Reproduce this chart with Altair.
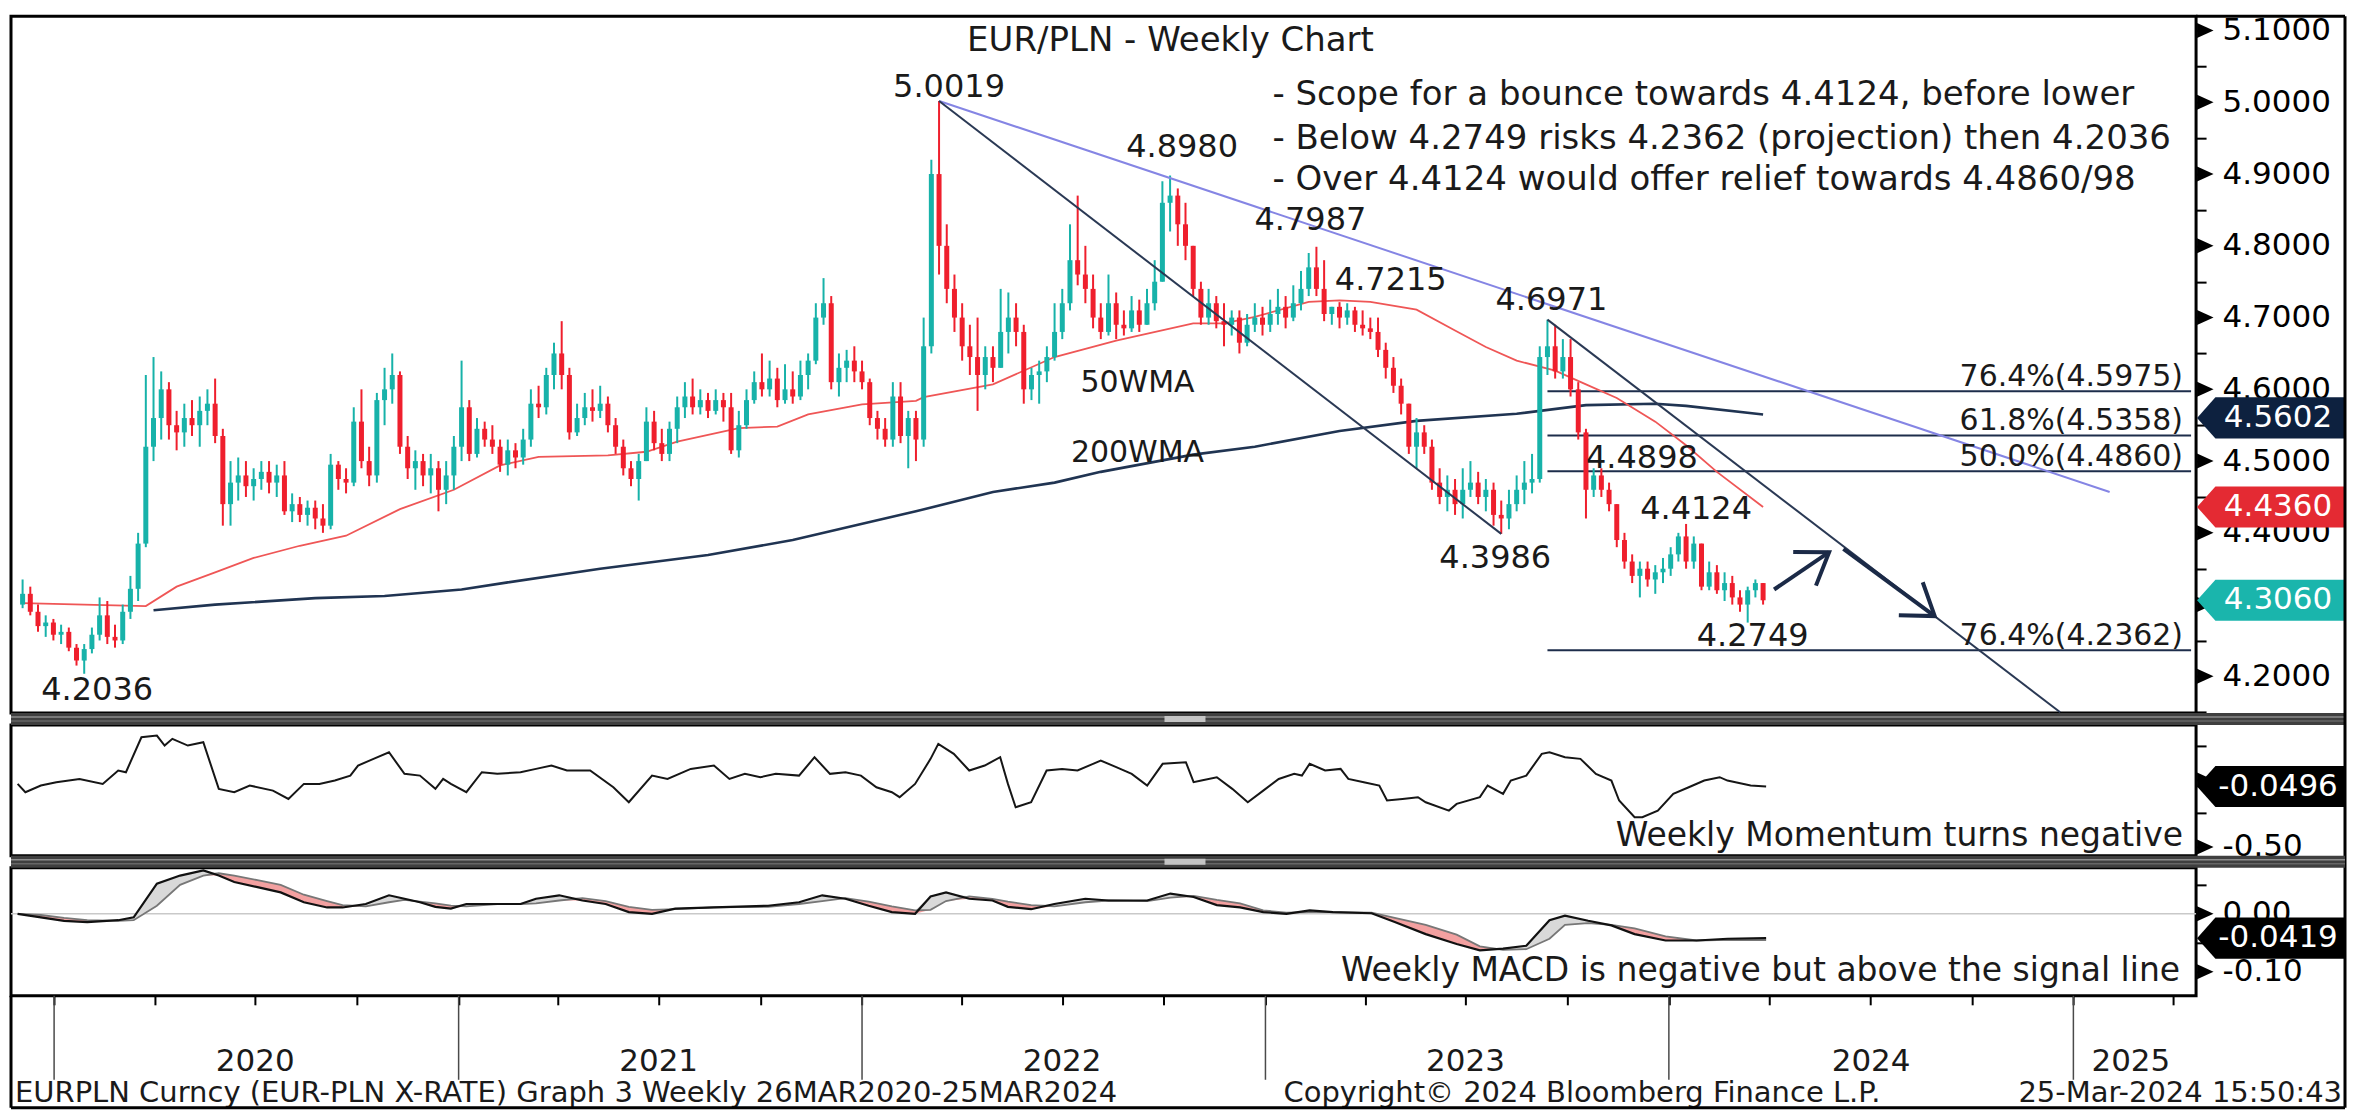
import altair as alt
import pandas as pd

# ---------------- layout ----------------
W = 2186
H_MAIN, H_MOM, H_MACD, GAP = 697, 131, 128, 12
RIGHT = 149
FONT = "DejaVu Sans"
INK = "#1a1a1a"
TEAL, RED = "#17b2a9", "#ef1f2d"
MA50_C, MA200_C = "#ef5656", "#203452"
NAVY = "#1d2d4b"
PURPLE = "#8585e4"

# ---------------- data ----------------
START = "2019-11-29"          # first weekly candle
OPEN_FIRST = 4.300
CLOSE = [
    4.315, 4.290, 4.270, 4.275, 4.258, 4.262, 4.240, 4.222, 4.238, 4.258,
    4.285, 4.255, 4.250, 4.290, 4.322, 4.385, 4.520, 4.560, 4.600, 4.550,
    4.540, 4.560, 4.550, 4.570, 4.580, 4.535, 4.440, 4.470, 4.480, 4.465,
    4.475, 4.485, 4.470, 4.480, 4.430, 4.440, 4.425, 4.435, 4.420, 4.410,
    4.495, 4.475, 4.470, 4.555, 4.500, 4.480, 4.585, 4.600, 4.620, 4.520,
    4.490, 4.500, 4.480, 4.490, 4.460, 4.480, 4.520, 4.575, 4.510, 4.545,
    4.530, 4.520, 4.495, 4.515, 4.505, 4.530, 4.580, 4.575, 4.620, 4.650,
    4.620, 4.540, 4.560, 4.575, 4.570, 4.580, 4.550, 4.520, 4.490, 4.475,
    4.500, 4.555, 4.525, 4.510, 4.545, 4.575, 4.590, 4.575, 4.585, 4.570,
    4.585, 4.575, 4.515, 4.550, 4.585, 4.610, 4.600, 4.615, 4.585, 4.600,
    4.590, 4.620, 4.640, 4.700, 4.720, 4.610, 4.630, 4.640, 4.625, 4.610,
    4.560, 4.545, 4.530, 4.590, 4.535, 4.560, 4.530, 4.660, 4.900, 4.800,
    4.740, 4.700, 4.660, 4.645, 4.620, 4.645, 4.630, 4.680, 4.700, 4.680,
    4.600, 4.620, 4.625, 4.645, 4.680, 4.720, 4.780, 4.760, 4.740, 4.700,
    4.680, 4.720, 4.690, 4.685, 4.710, 4.690, 4.720, 4.750, 4.860, 4.870,
    4.830, 4.800, 4.740, 4.700, 4.720, 4.695, 4.690, 4.700, 4.665, 4.690,
    4.700, 4.690, 4.705, 4.715, 4.700, 4.720, 4.740, 4.770, 4.740, 4.705,
    4.715, 4.700, 4.710, 4.690, 4.685, 4.680, 4.655, 4.630, 4.605, 4.580,
    4.520, 4.540, 4.520, 4.470, 4.450, 4.460, 4.440, 4.460, 4.470, 4.450,
    4.460, 4.425, 4.420, 4.440, 4.460, 4.470, 4.475, 4.645, 4.660, 4.625,
    4.645, 4.600, 4.540, 4.460, 4.480, 4.460, 4.440, 4.390, 4.360, 4.340,
    4.350, 4.335, 4.345, 4.350, 4.370, 4.395, 4.360, 4.385, 4.325, 4.345,
    4.320, 4.330, 4.310, 4.300, 4.320, 4.330, 4.306,
]
HIGH = [
    4.335, 4.325, 4.300, 4.285, 4.280, 4.272, 4.268, 4.245, 4.245, 4.268,
    4.310, 4.305, 4.272, 4.300, 4.340, 4.400, 4.620, 4.645, 4.625, 4.610,
    4.570, 4.580, 4.585, 4.590, 4.600, 4.615, 4.545, 4.500, 4.505, 4.500,
    4.490, 4.500, 4.500, 4.495, 4.500, 4.455, 4.450, 4.445, 4.445, 4.440,
    4.510, 4.500, 4.490, 4.575, 4.600, 4.520, 4.595, 4.630, 4.650, 4.625,
    4.535, 4.515, 4.510, 4.510, 4.500, 4.500, 4.535, 4.640, 4.585, 4.560,
    4.555, 4.550, 4.530, 4.530, 4.525, 4.545, 4.600, 4.605, 4.630, 4.665,
    4.695, 4.630, 4.580, 4.595, 4.600, 4.605, 4.590, 4.560, 4.530, 4.500,
    4.510, 4.575, 4.570, 4.545, 4.555, 4.590, 4.610, 4.615, 4.600, 4.595,
    4.600, 4.595, 4.595, 4.570, 4.600, 4.625, 4.650, 4.640, 4.630, 4.635,
    4.625, 4.640, 4.650, 4.720, 4.755, 4.730, 4.650, 4.655, 4.660, 4.640,
    4.615, 4.570, 4.560, 4.610, 4.610, 4.570, 4.570, 4.700, 4.920, 5.0019,
    4.830, 4.760, 4.720, 4.690, 4.700, 4.660, 4.660, 4.740, 4.735, 4.720,
    4.690, 4.630, 4.640, 4.660, 4.720, 4.740, 4.830, 4.870, 4.800, 4.760,
    4.720, 4.760, 4.735, 4.710, 4.730, 4.725, 4.740, 4.780, 4.890, 4.898,
    4.880, 4.860, 4.800, 4.750, 4.740, 4.730, 4.720, 4.710, 4.710, 4.705,
    4.720, 4.715, 4.725, 4.740, 4.730, 4.745, 4.765, 4.790, 4.7987, 4.780,
    4.715, 4.7215, 4.720, 4.715, 4.710, 4.700, 4.700, 4.665, 4.645, 4.615,
    4.580, 4.560, 4.550, 4.530, 4.490, 4.480, 4.475, 4.490, 4.500, 4.485,
    4.475, 4.470, 4.445, 4.460, 4.480, 4.500, 4.510, 4.660, 4.6971, 4.690,
    4.670, 4.670, 4.610, 4.545, 4.490, 4.490, 4.470, 4.440, 4.400, 4.370,
    4.360, 4.360, 4.355, 4.365, 4.380, 4.400, 4.4124, 4.395, 4.385, 4.360,
    4.355, 4.345, 4.340, 4.320, 4.325, 4.335, 4.330,
]
LOW = [
    4.295, 4.285, 4.262, 4.255, 4.250, 4.245, 4.235, 4.215, 4.2036, 4.232,
    4.250, 4.245, 4.240, 4.245, 4.280, 4.305, 4.380, 4.500, 4.530, 4.530,
    4.515, 4.520, 4.535, 4.520, 4.550, 4.525, 4.410, 4.410, 4.445, 4.450,
    4.445, 4.460, 4.455, 4.450, 4.425, 4.415, 4.415, 4.410, 4.405, 4.400,
    4.405, 4.460, 4.455, 4.465, 4.490, 4.465, 4.470, 4.550, 4.580, 4.510,
    4.475, 4.460, 4.465, 4.455, 4.430, 4.440, 4.460, 4.500, 4.500, 4.505,
    4.520, 4.510, 4.485, 4.480, 4.490, 4.495, 4.520, 4.560, 4.565, 4.600,
    4.600, 4.530, 4.535, 4.550, 4.555, 4.560, 4.540, 4.510, 4.480, 4.465,
    4.445, 4.500, 4.515, 4.500, 4.500, 4.525, 4.560, 4.565, 4.565, 4.560,
    4.565, 4.555, 4.510, 4.505, 4.545, 4.580, 4.590, 4.590, 4.575, 4.580,
    4.580, 4.585, 4.600, 4.635, 4.690, 4.600, 4.590, 4.610, 4.610, 4.600,
    4.550, 4.530, 4.520, 4.520, 4.525, 4.490, 4.500, 4.520, 4.650, 4.760,
    4.720, 4.680, 4.640, 4.620, 4.570, 4.600, 4.610, 4.630, 4.650, 4.660,
    4.580, 4.585, 4.580, 4.610, 4.640, 4.670, 4.710, 4.745, 4.720, 4.685,
    4.670, 4.675, 4.670, 4.675, 4.680, 4.680, 4.690, 4.710, 4.750, 4.820,
    4.800, 4.780, 4.730, 4.690, 4.690, 4.685, 4.660, 4.675, 4.650, 4.660,
    4.680, 4.675, 4.680, 4.690, 4.685, 4.695, 4.710, 4.730, 4.730, 4.695,
    4.690, 4.685, 4.690, 4.680, 4.675, 4.670, 4.645, 4.615, 4.595, 4.565,
    4.510, 4.490, 4.510, 4.460, 4.440, 4.430, 4.425, 4.420, 4.450, 4.440,
    4.430, 4.410, 4.3986, 4.405, 4.430, 4.440, 4.455, 4.470, 4.620, 4.615,
    4.615, 4.590, 4.530, 4.420, 4.450, 4.450, 4.430, 4.380, 4.350, 4.330,
    4.310, 4.325, 4.315, 4.330, 4.340, 4.360, 4.350, 4.350, 4.320, 4.320,
    4.315, 4.305, 4.300, 4.290, 4.2749, 4.310, 4.300,
]

MA50_IDX = [0, 8, 16, 20, 25, 30, 36, 42, 49, 56, 62, 67, 76, 81, 85, 93, 98, 102, 109, 116,
            117, 126, 134, 142, 152, 156, 160, 167, 171, 175, 181, 186, 190, 194, 199, 203, 207,
            212, 216, 220, 226]
MA50_VAL = [4.302, 4.300, 4.298, 4.325, 4.345, 4.365, 4.382, 4.396, 4.433, 4.460, 4.494, 4.506,
            4.508, 4.513, 4.527, 4.546, 4.548, 4.565, 4.579, 4.584, 4.589, 4.607, 4.645, 4.668,
            4.692, 4.692, 4.701, 4.722, 4.724, 4.722, 4.711, 4.682, 4.659, 4.640, 4.626, 4.607,
            4.588, 4.555, 4.522, 4.485, 4.436]
MA200_IDX = [17, 25, 38, 47, 57, 63, 75, 89, 100, 110, 116, 126, 134, 140, 152, 160, 171, 181,
             194, 203, 212, 216, 226]
MA200_VAL = [4.292, 4.300, 4.309, 4.312, 4.321, 4.331, 4.350, 4.369, 4.390, 4.415, 4.430, 4.457,
             4.470, 4.485, 4.509, 4.520, 4.542, 4.556, 4.566, 4.578, 4.580, 4.577, 4.565]

MOM_IDX = [0, 1, 3, 5, 8, 11, 13, 14, 16, 18, 19, 20, 22, 24, 26, 28, 30, 33, 35, 37,
           39, 41, 43, 44, 46, 48, 50, 52, 54, 55, 56, 58, 60, 62, 65, 67, 69, 71, 74, 77,
           79, 82, 84, 87, 90, 92, 94, 96, 98, 101, 103, 105, 107, 109, 111, 113, 114, 116, 118, 119,
           121, 123, 125, 127, 128, 129, 131, 133, 135, 137, 139, 140, 142, 144, 146, 148, 151, 152, 153, 155,
           157, 159, 161, 163, 165, 166, 167, 169, 171, 172, 174, 176, 177, 179, 181, 182, 185, 186, 189, 190,
           192, 193, 195, 197, 198, 200, 202, 204, 206, 207, 209, 210, 212, 214, 216, 218, 220, 221, 224, 226]
MOM_VAL = [-0.030, -0.092, -0.042, -0.017, 0.007, -0.030, 0.070, 0.057, 0.318, 0.331,
           0.256, 0.306, 0.256, 0.281, -0.067, -0.092, -0.042, -0.080, -0.142, -0.030,
           -0.030, -0.005, 0.032, 0.107, 0.157, 0.206, 0.045, 0.032, -0.067, 0.007,
           -0.030, -0.092, 0.057, 0.045, 0.057, 0.082, 0.107, 0.070, 0.070, -0.055,
           -0.167, 0.032, 0.007, 0.082, 0.107, 0.007, 0.045, 0.020, 0.045, 0.032,
           0.169, 0.045, 0.057, 0.032, -0.055, -0.092, -0.129, -0.030, 0.157, 0.269,
           0.194, 0.070, 0.107, 0.169, -0.030, -0.204, -0.167, 0.070, 0.082, 0.070,
           0.120, 0.144, 0.095, 0.045, -0.042, 0.120, 0.132, -0.017, -0.005, 0.020,
           -0.067, -0.167, -0.080, 0.007, 0.045, 0.032, 0.120, 0.070, 0.082, 0.007,
           -0.017, -0.042, -0.154, -0.142, -0.129, -0.167, -0.229, -0.179, -0.129, -0.042,
           -0.104, -0.005, 0.032, 0.194, 0.206, 0.169, 0.157, 0.045, -0.005, -0.154,
           -0.279, -0.279, -0.229, -0.104, -0.055, -0.005, 0.020, -0.005, -0.042, -0.0496]

MACD_IDX = [0, 3, 6, 9, 13, 15, 18, 21, 24, 26, 28, 31, 34, 37, 40, 42, 45, 48, 50, 52,
            54, 56, 58, 62, 65, 67, 70, 73, 76, 79, 82, 85, 90, 97, 101, 104, 107, 110, 113, 116,
            118, 120, 123, 126, 128, 131, 134, 138, 141, 146, 149, 152, 155, 158, 161, 164, 167, 170, 175, 178,
            182, 186, 189, 192, 195, 198, 200, 203, 206, 209, 213, 217, 221, 226]
MACD_VAL = [0.000, -0.006, -0.012, -0.0144, -0.011, -0.006, 0.052, 0.066, 0.075, 0.066,
            0.055, 0.046, 0.037, 0.020, 0.011, 0.011, 0.017, 0.032, 0.026, 0.020,
            0.012, 0.009, 0.017, 0.017, 0.017, 0.026, 0.032, 0.023, 0.017, 0.003,
            0.000, 0.009, 0.011, 0.014, 0.020, 0.032, 0.026, 0.014, 0.003, 0.000,
            0.030, 0.037, 0.026, 0.023, 0.012, 0.008, 0.017, 0.026, 0.023, 0.023,
            0.035, 0.029, 0.015, 0.011, 0.003, 0.000, 0.006, 0.003, 0.001, -0.014,
            -0.035, -0.052, -0.063, -0.060, -0.055, -0.011, -0.003, -0.012, -0.020, -0.035,
            -0.046, -0.046, -0.043, -0.0419]
SIGNAL_VAL = [0.000, -0.002, -0.007, -0.011, -0.012, -0.011, 0.014, 0.050, 0.066, 0.070,
              0.066, 0.058, 0.050, 0.033, 0.022, 0.015, 0.013, 0.020, 0.024, 0.021,
              0.018, 0.014, 0.013, 0.017, 0.017, 0.018, 0.023, 0.027, 0.022, 0.012,
              0.007, 0.008, 0.011, 0.012, 0.017, 0.022, 0.027, 0.021, 0.013, 0.006,
              0.007, 0.022, 0.030, 0.026, 0.021, 0.015, 0.013, 0.020, 0.023, 0.022,
              0.028, 0.031, 0.024, 0.018, 0.006, 0.002, 0.003, 0.003, 0.002, -0.007,
              -0.019, -0.036, -0.056, -0.062, -0.061, -0.043, -0.019, -0.016, -0.019, -0.025,
              -0.039, -0.046, -0.045, -0.0455]

FIB_LEVELS = [4.5975, 4.5358, 4.4860, 4.2362]
FIB_LABELS = ["76.4%(4.5975)", "61.8%(4.5358)", "50.0%(4.4860)", "76.4%(4.2362)"]
FIB_START = "2023-09-15"
X_END = "2025-04-22"

TREND_X0 = ["2022-03-11", "2022-03-11", "2023-09-15"]
TREND_Y0 = [5.0019, 5.0019, 4.6971]
TREND_X1 = ["2025-02-07", "2023-08-04", "2024-12-24"]
TREND_Y1 = [4.457, 4.3986, 4.150]
TREND_C = [PURPLE, "#2a3954", "#2a3954"]

ARROW_X0 = ["2024-04-08", "2024-06-10"]
ARROW_Y0 = [4.321, 4.3775]
ARROW_X1 = ["2024-05-28", "2024-09-01"]
ARROW_Y1 = [4.373, 4.284]
ARROW_ANG = [326, 36]

MAIN_TICKS = [4.15, 4.20, 4.25, 4.30, 4.35, 4.40, 4.45, 4.50, 4.55, 4.60, 4.65, 4.70,
              4.75, 4.80, 4.85, 4.90, 4.95, 5.00, 5.05, 5.10]
MAIN_MAJOR = [4.20, 4.30, 4.40, 4.50, 4.60, 4.70, 4.80, 4.90, 5.00, 5.10]
TAG_VAL = [4.5602, 4.4360, 4.3060]
TAG_TXT = ["4.5602", "4.4360", "4.3060"]
TAG_COL = ["#0d213f", "#e42a33", "#1ab5ac"]

# (text, candle index, value, align, baseline, dx, dy)
LABELS = [
    ("5.0019", 119, 5.0019, "center", "alphabetic", 10, -4),
    ("4.8980", 149, 4.8980, "center", "alphabetic", 12, -19),
    ("4.7987", 168, 4.7987, "center", "alphabetic", -6, -17),
    ("4.7215", 170, 4.7215, "left", "alphabetic", 3, -12),
    ("4.6971", 198, 4.6971, "center", "alphabetic", 4, -10),
    ("4.4898", 203, 4.4898, "left", "alphabetic", 0, 0),
    ("4.4124", 216, 4.4124, "center", "alphabetic", 10, -5),
    ("4.3986", 192, 4.3986, "center", "top", -6, 9),
    ("4.2749", 224, 4.2749, "center", "top", 5, -2),
    ("4.2036", 8, 4.2036, "center", "top", 13, 1),
]

YEARS = [2020, 2021, 2022, 2023, 2024, 2025]
YEAR_LABEL_DATES = ["2020-07-01", "2021-07-01", "2022-07-01", "2023-07-01", "2024-07-02", "2025-02-22"]

# ---------------- tables ----------------
dates = pd.date_range(START, periods=len(CLOSE), freq="7D")
opens = [OPEN_FIRST] + CLOSE[:-1]
candles = pd.DataFrame({"date": dates, "open": opens, "close": CLOSE, "high": HIGH, "low": LOW})
candles["lo"] = candles[["low", "open", "close"]].min(axis=1)
candles["hi"] = candles[["high", "open", "close"]].max(axis=1)
candles["dir"] = ["up" if c >= o else "down" for o, c in zip(candles.open, candles.close)]

ma50 = pd.DataFrame({"date": dates[MA50_IDX], "v": MA50_VAL})
ma200 = pd.DataFrame({"date": dates[MA200_IDX], "v": MA200_VAL})
mom = pd.DataFrame({"date": dates[MOM_IDX], "v": MOM_VAL})
macd = pd.DataFrame({"date": dates[MACD_IDX], "m": MACD_VAL, "s": SIGNAL_VAL})
fib = pd.DataFrame({"x0": pd.to_datetime([FIB_START] * 4), "x1": pd.to_datetime([X_END] * 4),
                    "level": FIB_LEVELS, "t": FIB_LABELS})
trend = pd.DataFrame({"x0": pd.to_datetime(TREND_X0), "x1": pd.to_datetime(TREND_X1),
                      "y0": TREND_Y0, "y1": TREND_Y1, "c": TREND_C})
arrows = pd.DataFrame({"x0": pd.to_datetime(ARROW_X0), "x1": pd.to_datetime(ARROW_X1),
                       "y0": ARROW_Y0, "y1": ARROW_Y1, "ang": ARROW_ANG})
tags = pd.DataFrame({"v": TAG_VAL, "t": TAG_TXT, "c": TAG_COL})
one = pd.DataFrame({"k": [0]})

# ---------------- scales / axes ----------------
xs = alt.Scale(domain=[alt.DateTime(year=2019, month=11, date=23),
                       alt.DateTime(year=2025, month=4, date=22)])

def yaxis(values, expr):
    return alt.Axis(orient="right", values=values, labelExpr=expr, tickSize=10, tickWidth=2,
                    tickColor="black", domain=False, grid=False, labelFont=FONT,
                    labelFontSize=31, labelColor="black", labelPadding=16,
                    labelOverlap=False, labelFlush=False, labelBaseline="middle", title=None)

ys_main = alt.Scale(domain=[4.149, 5.12], zero=False, nice=False)
# the 4.3000 label sits fully under the last-price tag in the reference, so it is not drawn
ax_main = yaxis(MAIN_TICKS,
                "(abs(datum.value*10 - round(datum.value*10)) < 0.001 && abs(datum.value - 4.3) > 0.001)"
                " ? format(datum.value, '.4f') : ''")
ys_mom = alt.Scale(domain=[-0.567, 0.410], zero=False, nice=False)
ax_mom = yaxis([0.25, 0.0, -0.25, -0.5], "datum.value == -0.5 ? '-0.50' : ''")
ys_macd = alt.Scale(domain=[-0.1414, 0.0793], zero=False, nice=False)
ax_macd = yaxis([0.05, 0.0, -0.05, -0.1],
                "abs(datum.value) < 0.000001 ? '0.00' : (abs(datum.value + 0.1) < 0.000001 ? '-0.10' : '')")

QUARTERS = [alt.DateTime(year=y, month=m, date=1) for y in range(2020, 2026) for m in (1, 4, 7, 10)
            if not (y == 2025 and m > 4)]
ax_x = alt.Axis(values=QUARTERS, tickSize=9, tickWidth=2, tickColor="black", labels=False,
                domain=False, grid=False, title=None, orient="bottom")

def XM(f="date"):
    return alt.X(f + ":T", scale=xs, axis=None)

def XB(f="date"):
    return alt.X(f + ":T", scale=xs, axis=ax_x)

def Y(f, sc, ax):
    return alt.Y(f + ":Q", scale=sc, axis=ax)

def ptext(t, px, py, size, align="left", baseline="alphabetic", color=INK):
    return alt.Chart(pd.DataFrame({"t": [t]})).mark_text(
        font=FONT, fontSize=size, align=align, baseline=baseline, color=color
    ).encode(x=alt.value(px), y=alt.value(py), text="t:N")

TRI = "M0,-0.5L1.1,0L0,0.5Z"
TAG = "M0,0L0.25,-0.28L2,-0.28L2,0.28L0.25,0.28Z"
CHEV = "M-0.8,-0.55L0,0L-0.8,0.55"
TAG_SIZE = 147 ** 2

dir_color = alt.Color("dir:N", scale=alt.Scale(domain=["up", "down"], range=[TEAL, RED]), legend=None)

def triangles(vals, sc, ax):
    return alt.Chart(pd.DataFrame({"v": vals})).mark_point(
        shape=TRI, filled=True, size=900, color="black", opacity=1, strokeWidth=0
    ).encode(x=alt.value(W + 1), y=Y("v", sc, ax))

def tag_layers(df, sc, ax):
    box = alt.Chart(df).mark_point(shape=TAG, filled=True, size=TAG_SIZE, opacity=1, strokeWidth=0).encode(
        x=alt.value(W + 1), y=Y("v", sc, ax), color=alt.Color("c:N", scale=None))
    txt = alt.Chart(df).mark_text(font=FONT, fontSize=31, color="white", align="center",
                                  baseline="middle").encode(
        x=alt.value(W + 82), y=Y("v", sc, ax), text="t:N")
    return [box, txt]

def separator():
    bar = alt.Chart(one).mark_rect(color="#3f3f3f").encode(
        x=alt.value(0), x2=alt.value(W + RIGHT), y=alt.value(-GAP), y2=alt.value(0))
    line1 = alt.Chart(one).mark_rule(color="#8d8d8d", strokeWidth=1.5).encode(
        x=alt.value(0), x2=alt.value(W + RIGHT), y=alt.value(-8))
    line2 = alt.Chart(one).mark_rule(color="#666666", strokeWidth=1.5).encode(
        x=alt.value(0), x2=alt.value(W + RIGHT), y=alt.value(-4))
    grip = alt.Chart(one).mark_rect(color="#c4c4c4").encode(
        x=alt.value(1154), x2=alt.value(1195), y=alt.value(-9), y2=alt.value(-3))
    return [bar, line1, line2, grip]

# ---------------- main panel ----------------
YMn = lambda f: Y(f, ys_main, ax_main)
main_layers = [
    alt.Chart(fib).mark_rule(color=NAVY, strokeWidth=2).encode(x=XM("x0"), x2="x1:T", y=YMn("level")),
    alt.Chart(ma200).mark_line(color=MA200_C, strokeWidth=2.6).encode(x=XM(), y=YMn("v")),
    alt.Chart(ma50).mark_line(color=MA50_C, strokeWidth=1.8).encode(x=XM(), y=YMn("v")),
    alt.Chart(candles).mark_rule(strokeWidth=2).encode(x=XM(), y=YMn("lo"), y2="hi:Q", color=dir_color),
    alt.Chart(candles).mark_bar(size=5).encode(x=XM(), y=YMn("open"), y2="close:Q", color=dir_color),
    alt.Chart(trend).mark_rule(strokeWidth=2).encode(x=XM("x0"), x2="x1:T", y=YMn("y0"), y2="y1:Q",
                                                     color=alt.Color("c:N", scale=None)),
    alt.Chart(arrows).mark_rule(strokeWidth=4, color="#1b2a47").encode(x=XM("x0"), x2="x1:T",
                                                                      y=YMn("y0"), y2="y1:Q"),
    alt.Chart(arrows).mark_point(shape=CHEV, filled=False, size=5476, strokeWidth=4, opacity=1,
                                 color="#1b2a47").encode(x=XM("x1"), y=YMn("y1"),
                                                         angle=alt.Angle("ang:Q", scale=None)),
    alt.Chart(fib).mark_text(font=FONT, fontSize=30, color=INK, align="right", baseline="alphabetic",
                             dy=-5).encode(x=alt.value(W - 13), y=YMn("level"), text="t:N"),
]
for t, i, v, al, bl, dx, dy in LABELS:
    d = pd.DataFrame({"date": [dates[i]], "v": [v], "t": [t]})
    main_layers.append(alt.Chart(d).mark_text(font=FONT, fontSize=32, color=INK, align=al, baseline=bl,
                                              dx=dx, dy=dy).encode(x=XM(), y=YMn("v"), text="t:N"))
main_layers += [
    ptext("EUR/PLN - Weekly Chart", 1160, 35, 34, align="center"),
    ptext("- Scope for a bounce towards 4.4124, before lower", 1262, 89, 34),
    ptext("- Below 4.2749 risks 4.2362 (projection) then 4.2036", 1262, 133, 34),
    ptext("- Over 4.4124 would offer relief towards 4.4860/98", 1262, 174, 34),
    ptext("50WMA", 1127, 367, 30, align="center", baseline="middle"),
    ptext("200WMA", 1127, 437, 30, align="center", baseline="middle"),
    triangles(MAIN_MAJOR, ys_main, ax_main),
    alt.Chart(one).mark_rule(color="black", strokeWidth=3).encode(
        x=alt.value(W), x2=alt.value(W + RIGHT), y=alt.value(0)),
]
main_layers += tag_layers(tags, ys_main, ax_main)
main = alt.layer(*main_layers).properties(width=W, height=H_MAIN)

# ---------------- momentum panel ----------------
YMo = lambda f: Y(f, ys_mom, ax_mom)
mom_tag = pd.DataFrame({"v": [-0.0496], "t": ["-0.0496"], "c": ["#000000"]})
mom_layers = [
    alt.Chart(mom).mark_line(color="#161616", strokeWidth=2).encode(x=XM(), y=YMo("v")),
    ptext("Weekly Momentum turns negative", W - 13, H_MOM - 10, 33, align="right"),
    triangles([0.0, -0.5], ys_mom, ax_mom),
] + tag_layers(mom_tag, ys_mom, ax_mom) + separator()
mom_chart = alt.layer(*mom_layers).properties(width=W, height=H_MOM)

# ---------------- MACD panel ----------------
YMa = lambda f: Y(f, ys_macd, ax_macd)
macd_tag = pd.DataFrame({"v": [-0.0419], "t": ["-0.0419"], "c": ["#000000"]})
base = alt.Chart(macd).transform_calculate(top="max(datum.m, datum.s)", bot="min(datum.m, datum.s)")
year_lines = pd.DataFrame({"date": pd.to_datetime([f"{y}-01-01" for y in YEARS])})
year_labels = pd.DataFrame({"date": pd.to_datetime(YEAR_LABEL_DATES), "t": [str(y) for y in YEARS]})
TOP_OFF = H_MAIN + GAP + H_MOM + GAP
macd_layers = [
    alt.Chart(pd.DataFrame({"v": [0.0]})).mark_rule(color="#c9c9c9", strokeWidth=1.5).encode(
        x=alt.value(0), x2=alt.value(W), y=YMa("v")),
    base.mark_area(color="#d9d9d9", opacity=1).encode(x=XB(), y=YMa("top"), y2="s:Q"),
    base.mark_area(color="#f3a0a0", opacity=1).encode(x=XB(), y=YMa("s"), y2="bot:Q"),
    alt.Chart(macd).mark_line(color="#777777", strokeWidth=1.8).encode(x=XB(), y=YMa("s")),
    alt.Chart(macd).mark_line(color="#111111", strokeWidth=2.2).encode(x=XB(), y=YMa("m")),
    ptext("Weekly MACD is negative but above the signal line", W - 16, H_MACD - 15, 33, align="right"),
    triangles([0.0, -0.1], ys_macd, ax_macd),
    alt.Chart(year_lines).mark_rule(color="#4a4a4a", strokeWidth=1.5).encode(
        x=XB(), y=alt.value(H_MACD), y2=alt.value(H_MACD + 84)),
    alt.Chart(year_labels).mark_text(font=FONT, fontSize=31, color=INK, align="center",
                                     baseline="alphabetic").encode(
        x=XB(), y=alt.value(H_MACD + 75), text="t:N"),
    ptext("EURPLN Curncy (EUR-PLN X-RATE) Graph 3  Weekly 26MAR2020-25MAR2024", 4, H_MACD + 106, 29),
    ptext("Copyright\u00a9 2024 Bloomberg Finance L.P.", 1273, H_MACD + 106, 29),
    ptext("25-Mar-2024 15:50:43", W + RIGHT - 3, H_MACD + 106, 29, align="right"),
    alt.Chart(one).mark_rule(color="black", strokeWidth=3).encode(
        x=alt.value(W + RIGHT), y=alt.value(-TOP_OFF), y2=alt.value(H_MACD + 112)),
    alt.Chart(one).mark_rule(color="black", strokeWidth=3).encode(
        x=alt.value(0), x2=alt.value(W + RIGHT), y=alt.value(H_MACD + 112)),
    alt.Chart(one).mark_rule(color="black", strokeWidth=3).encode(
        x=alt.value(0), y=alt.value(H_MACD), y2=alt.value(H_MACD + 112)),
] + tag_layers(macd_tag, ys_macd, ax_macd) + separator()
macd_chart = alt.layer(*macd_layers).properties(width=W, height=H_MACD)

chart = alt.vconcat(main, mom_chart, macd_chart, spacing=GAP, bounds="flush").properties(
    padding={"left": 0, "top": 4, "right": 0, "bottom": 0}
).configure_view(stroke="black", strokeWidth=3)

chart.save("out.html", embed_options={"renderer": "svg", "actions": False})
